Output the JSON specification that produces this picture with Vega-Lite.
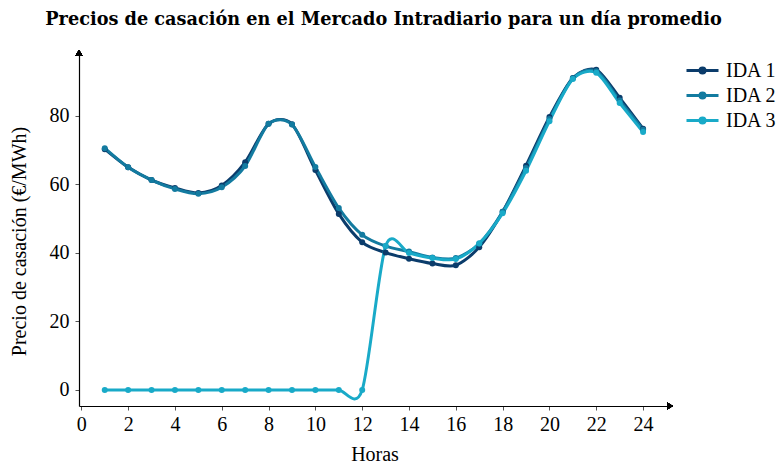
{
  "$schema": "https://vega.github.io/schema/vega-lite/v6.json",
  "autosize": "none",
  "width": 591,
  "height": 353,
  "padding": {"left": 79, "top": 53, "right": 113, "bottom": 57},
  "background": "white",
  "config": {
    "view": {"stroke": null},
    "font": "Liberation Serif",
    "axis": {"grid": false, "domainColor": "#000", "domainWidth": 1.2, "tickColor": "#555", "tickSize": 4, "labelFont": "Liberation Serif", "labelFontSize": 20, "labelColor": "#000", "titleFont": "Liberation Serif", "titleFontSize": 20, "titleFontWeight": "normal", "titleColor": "#000"}
  },
  "title": {"text": "Precios de casación en el Mercado Intradiario para un día promedio", "font": "DejaVu Serif", "fontSize": 17.7, "fontWeight": "bold", "color": "#000", "anchor": "middle", "frame": "group", "dx": 9, "offset": 21},
  "data": {"values": [
    {"hora": 1, "serie": "IDA 1", "precio": 70.3},
    {"hora": 2, "serie": "IDA 1", "precio": 65.0},
    {"hora": 3, "serie": "IDA 1", "precio": 61.3},
    {"hora": 4, "serie": "IDA 1", "precio": 59.0},
    {"hora": 5, "serie": "IDA 1", "precio": 57.5},
    {"hora": 6, "serie": "IDA 1", "precio": 59.7},
    {"hora": 7, "serie": "IDA 1", "precio": 66.5},
    {"hora": 8, "serie": "IDA 1", "precio": 77.7},
    {"hora": 9, "serie": "IDA 1", "precio": 77.6},
    {"hora": 10, "serie": "IDA 1", "precio": 64.2},
    {"hora": 11, "serie": "IDA 1", "precio": 51.4},
    {"hora": 12, "serie": "IDA 1", "precio": 43.1},
    {"hora": 13, "serie": "IDA 1", "precio": 40.1},
    {"hora": 14, "serie": "IDA 1", "precio": 38.3},
    {"hora": 15, "serie": "IDA 1", "precio": 36.9},
    {"hora": 16, "serie": "IDA 1", "precio": 36.4},
    {"hora": 17, "serie": "IDA 1", "precio": 41.7},
    {"hora": 18, "serie": "IDA 1", "precio": 52.0},
    {"hora": 19, "serie": "IDA 1", "precio": 65.5},
    {"hora": 20, "serie": "IDA 1", "precio": 79.7},
    {"hora": 21, "serie": "IDA 1", "precio": 91.1},
    {"hora": 22, "serie": "IDA 1", "precio": 93.5},
    {"hora": 23, "serie": "IDA 1", "precio": 85.3},
    {"hora": 24, "serie": "IDA 1", "precio": 76.3},
    {"hora": 1, "serie": "IDA 2", "precio": 70.6},
    {"hora": 2, "serie": "IDA 2", "precio": 65.0},
    {"hora": 3, "serie": "IDA 2", "precio": 61.3},
    {"hora": 4, "serie": "IDA 2", "precio": 58.7},
    {"hora": 5, "serie": "IDA 2", "precio": 57.3},
    {"hora": 6, "serie": "IDA 2", "precio": 59.2},
    {"hora": 7, "serie": "IDA 2", "precio": 65.4},
    {"hora": 8, "serie": "IDA 2", "precio": 77.7},
    {"hora": 9, "serie": "IDA 2", "precio": 77.5},
    {"hora": 10, "serie": "IDA 2", "precio": 65.1},
    {"hora": 11, "serie": "IDA 2", "precio": 53.1},
    {"hora": 12, "serie": "IDA 2", "precio": 45.3},
    {"hora": 13, "serie": "IDA 2", "precio": 42.0},
    {"hora": 14, "serie": "IDA 2", "precio": 40.4},
    {"hora": 15, "serie": "IDA 2", "precio": 38.7},
    {"hora": 16, "serie": "IDA 2", "precio": 38.5},
    {"hora": 17, "serie": "IDA 2", "precio": 42.7},
    {"hora": 18, "serie": "IDA 2", "precio": 52.0},
    {"hora": 19, "serie": "IDA 2", "precio": 64.8},
    {"hora": 20, "serie": "IDA 2", "precio": 79.1},
    {"hora": 21, "serie": "IDA 2", "precio": 91.0},
    {"hora": 22, "serie": "IDA 2", "precio": 93.1},
    {"hora": 23, "serie": "IDA 2", "precio": 84.5},
    {"hora": 24, "serie": "IDA 2", "precio": 76.0},
    {"hora": 1, "serie": "IDA 3", "precio": 0},
    {"hora": 2, "serie": "IDA 3", "precio": 0},
    {"hora": 3, "serie": "IDA 3", "precio": 0},
    {"hora": 4, "serie": "IDA 3", "precio": 0},
    {"hora": 5, "serie": "IDA 3", "precio": 0},
    {"hora": 6, "serie": "IDA 3", "precio": 0},
    {"hora": 7, "serie": "IDA 3", "precio": 0},
    {"hora": 8, "serie": "IDA 3", "precio": 0},
    {"hora": 9, "serie": "IDA 3", "precio": 0},
    {"hora": 10, "serie": "IDA 3", "precio": 0},
    {"hora": 11, "serie": "IDA 3", "precio": 0},
    {"hora": 12, "serie": "IDA 3", "precio": 0},
    {"hora": 13, "serie": "IDA 3", "precio": 42.0},
    {"hora": 14, "serie": "IDA 3", "precio": 40.0},
    {"hora": 15, "serie": "IDA 3", "precio": 38.5},
    {"hora": 16, "serie": "IDA 3", "precio": 38.2},
    {"hora": 17, "serie": "IDA 3", "precio": 42.8},
    {"hora": 18, "serie": "IDA 3", "precio": 51.6},
    {"hora": 19, "serie": "IDA 3", "precio": 64.0},
    {"hora": 20, "serie": "IDA 3", "precio": 78.5},
    {"hora": 21, "serie": "IDA 3", "precio": 90.8},
    {"hora": 22, "serie": "IDA 3", "precio": 92.6},
    {"hora": 23, "serie": "IDA 3", "precio": 83.8},
    {"hora": 24, "serie": "IDA 3", "precio": 75.3}
  ]},
  "layer": [
    {
      "mark": {"type": "line", "interpolate": "cardinal", "tension": 0.15, "strokeWidth": 3, "point": {"filled": true, "size": 36, "opacity": 1}},
      "encoding": {
        "x": {"field": "hora", "type": "quantitative", "scale": {"domain": [-0.1, 25.15], "nice": false, "zero": false}, "axis": {"title": "Horas", "values": [0, 2, 4, 6, 8, 10, 12, 14, 16, 18, 20, 22, 24], "labelPadding": 4, "titlePadding": 10}},
        "y": {"field": "precio", "type": "quantitative", "scale": {"domain": [-4.7, 98.4], "nice": false, "zero": false}, "axis": {"title": "Precio de casación (€/MWh)", "values": [0, 20, 40, 60, 80], "labelPadding": 6, "titlePadding": 20, "titleY": 188}},
        "color": {"field": "serie", "type": "nominal", "scale": {"domain": ["IDA 1", "IDA 2", "IDA 3"], "range": ["#0b3c6b", "#137ba0", "#19aac8"]},
          "legend": {"title": null, "orient": "none", "legendX": 612, "legendY": 6, "symbolType": "M-1.6,0L1.6,0M-0.25,0A0.25,0.25 0 1,1 0.25,0A0.25,0.25 0 1,1 -0.25,0Z", "symbolSize": 400, "symbolStrokeWidth": 3, "labelFontSize": 20, "labelFont": "Liberation Serif", "labelColor": "#000", "labelOffset": 12, "rowPadding": 3,
            "encode": {"symbols": {"update": {"fill": {"scale": "color", "field": "value"}, "stroke": {"scale": "color", "field": "value"}, "fillOpacity": {"value": 1}}}}}
        }
      }
    },
    {
      "mark": {"type": "point", "shape": "triangle-up", "filled": true, "color": "#000", "size": 45, "opacity": 1, "clip": false},
      "encoding": {"x": {"datum": -0.1, "type": "quantitative"}, "y": {"datum": 98.4, "type": "quantitative"}}
    },
    {
      "mark": {"type": "point", "shape": "triangle-right", "filled": true, "color": "#000", "size": 45, "opacity": 1, "clip": false},
      "encoding": {"x": {"datum": 25.15, "type": "quantitative"}, "y": {"datum": -4.7, "type": "quantitative"}}
    }
  ]
}
